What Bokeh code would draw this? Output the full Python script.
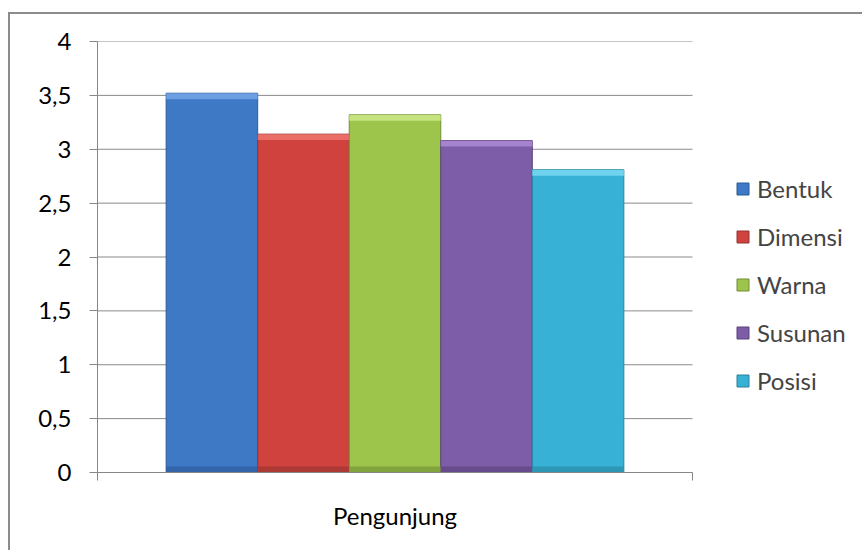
from bokeh.plotting import figure
from bokeh.models import (ColumnDataSource, Range1d, FixedTicker, CustomJSTickFormatter,
                          Legend, LegendItem)
from bokeh.embed import file_html
from bokeh.resources import INLINE

# ---- data ----
categories = ["Pengunjung"]
series = ["Bentuk", "Dimensi", "Warna", "Susunan", "Posisi"]
values = [3.52, 3.14, 3.32, 3.08, 2.81]
y_ticks = [0, 0.5, 1, 1.5, 2, 2.5, 3, 3.5, 4]

colors = ["#3E79C6", "#CF423E", "#9DC54B", "#7D5CA8", "#38B1D6"]
light = ["#74A6E6", "#EE7470", "#CCE98A", "#AC8AD6", "#79D8F2"]
dark = ["#3262A6", "#A93834", "#7FA03E", "#654A8A", "#2E95B2"]
edges = ["#2C5A94", "#983230", "#718F36", "#5A437A", "#2A8299"]

FONT = "Lato"
FS = "24px"
n = len(series)
gap = 1.5
w = 1.0 / (n + gap)
xs = [0.5 + (i - (n - 1) / 2) * w for i in range(n)]

# layout (pixels)
W, H = 854, 538
LEFT, TOP, BOTTOM = 87, 27, 80
PLOT_W = 595                     # width of the category area
frame_w = W - LEFT
x_end = frame_w / PLOT_W          # frame extends right to hold the legend

BEVEL = 0.055
src = ColumnDataSource(dict(x=xs, top=values, name=series, color=colors,
                            light=light, dark=dark, edge=edges,
                            btop=[v - BEVEL for v in values],
                            zero=[0] * n, low=[BEVEL] * n))

p = figure(width=W, height=H, x_range=Range1d(0, x_end), y_range=Range1d(0, 4),
           output_backend="svg", toolbar_location=None,
           min_border_left=LEFT, min_border_right=0, min_border_top=TOP,
           min_border_bottom=BOTTOM)
p.styles = {"margin-left": "8px", "margin-top": "12px",
            "border-left": "2px solid #8C8C8C", "border-top": "2px solid #8C8C8C"}
p.outline_line_color = None
p.background_fill_color = "white"
p.border_fill_color = "white"

# grid (limited to the category area)
p.xgrid.grid_line_color = None
p.ygrid.grid_line_color = None
gsrc = ColumnDataSource(dict(y=y_ticks[1:], x0=[0] * (len(y_ticks) - 1),
                             x1=[1] * (len(y_ticks) - 1)))
p.segment(x0="x0", x1="x1", y0="y", y1="y", source=gsrc,
          line_color="#8A8A8A", line_width=1, level="underlay")

# bars
bars = p.vbar(x="x", top="top", bottom=0, width=w, source=src,
              fill_color="color", line_color="edge", line_width=1)
p.vbar(x="x", top="top", bottom="btop", width=w, source=src,
       fill_color="light", line_color=None, fill_alpha=0.85)
p.vbar(x="x", top="low", bottom="zero", width=w, source=src,
       fill_color="dark", line_color=None, fill_alpha=0.9)

# y axis
ya = p.yaxis[0]
ya.ticker = FixedTicker(ticks=y_ticks)
ya.formatter = CustomJSTickFormatter(code="return tick.toString().replace('.', ',');")
ya.axis_line_color = "#868686"
ya.major_tick_line_color = "#868686"
ya.major_tick_out = 8
ya.major_tick_in = 0
ya.minor_tick_line_color = None
ya.major_label_standoff = 18
ya.major_label_text_font = FONT
ya.major_label_text_font_size = FS
ya.major_label_text_color = "black"

# x axis
xa = p.xaxis[0]
xa.bounds = (0, 1)
xa.ticker = FixedTicker(ticks=[0.5], minor_ticks=[0, 1])
xa.formatter = CustomJSTickFormatter(args=dict(label=categories[0]), code="return label;")
xa.axis_line_color = "#868686"
xa.major_tick_line_color = None
xa.major_tick_out = 0
xa.major_tick_in = 0
xa.minor_tick_line_color = "#868686"
xa.minor_tick_out = 8
xa.minor_tick_in = 0
xa.major_label_standoff = 20
xa.major_label_text_font = FONT
xa.major_label_text_font_size = FS
xa.major_label_text_color = "black"

# legend
items = [LegendItem(label=s, renderers=[bars], index=i) for i, s in enumerate(series)]
legend = Legend(items=items, location=(638, 77), orientation="vertical",
                glyph_width=15, glyph_height=15, label_height=24, spacing=19,
                label_standoff=7, padding=0, margin=0,
                label_text_font=FONT, label_text_font_size=FS,
                border_line_color=None, background_fill_alpha=0)
p.add_layout(legend, "center")

open("out.html", "w").write(file_html(p, INLINE))
